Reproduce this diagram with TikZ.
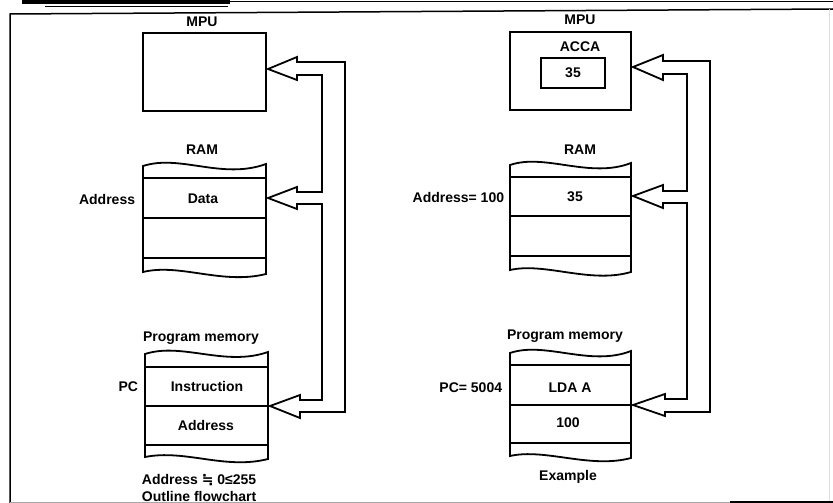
\documentclass[tikz,border=0pt]{standalone}
\usepackage{fontspec}
\setmainfont{Liberation Sans}
\newfontfamily\symfnt{DejaVu Sans}
\begin{document}
\begin{tikzpicture}[x=1pt,y=-1pt,line width=1.8pt,line join=miter,
  lbl/.style={font=\fontsize{14}{16}\selectfont\bfseries,inner sep=0pt},
  boxst/.style={draw,line width=1.8pt,inner sep=0pt},
  mem/.style={draw,line width=1.8pt},
  bus/.style={draw,line width=1.8pt,line join=miter}]
\useasboundingbox (0,0) rectangle (833,503);
% frame
\fill (22,0) rectangle (230,4);
\draw[line width=1.2pt] (230,1.5) -- (833,1.5);
\draw[line width=0.8pt] (45,6.5) -- (228,6.5);
\draw[line width=1.5pt] (10,503) -- (10,14) -- (833,9);
\draw[black!12,line width=0.8pt] (829,9) -- (829,503);
\draw[black!35,line width=1pt] (10,502) -- (730,502);
\draw[line width=2.5pt] (730,502) -- (833,502);

% ================= left panel =================
\node[lbl] (mpuL) at (202,22) {MPU};
\node[boxst,minimum width=123pt,minimum height=78pt] (mpuboxL) at (204.5,72) {};
\node[lbl] (ramL) at (202,150) {RAM};
\draw[mem] (143,272) -- (143,166) .. controls (180,154) and (222,180) .. (266,164) -- (266,274)
  .. controls (222,285) and (180,263) .. cycle;
\draw[mem] (143,178) -- (266,178) (143,218) -- (266,218) (143,258) -- (266,258);
\node[lbl] (dataL) at (203,199) {Data};
\node[lbl,anchor=east] (addrL) at (136,199) {Address};
\node[lbl] (pmL) at (201,338) {Program memory};
\draw[mem] (145,457) -- (145,354) .. controls (182,342) and (225,367) .. (268,352) -- (268,459)
  .. controls (225,470) and (185,449) .. cycle;
\draw[mem] (145,367) -- (268,367) (145,406) -- (268,406) (145,445) -- (268,445);
\node[lbl] (instrL) at (207,386) {Instruction};
\node[lbl] (paddrL) at (206,425) {Address};
\node[lbl,anchor=east] (pcL) at (139,387) {PC};
\node[lbl,anchor=west] (rangeL) at (141,480) {Address {\symfnt\bfseries ≒} 0≤255};
\node[lbl,anchor=base west] (outline) at (141,501) {Outline flowchart};
% bus arrows left
\draw[bus] (345,62) -- (297,62) -- (297,57) -- (268,69) -- (297,80) -- (297,75) -- (322,75)
  -- (322,192) -- (297,192) -- (297,187) -- (268,198) -- (297,209) -- (297,204) -- (322,204)
  -- (322,400) -- (300,400) -- (300,395) -- (270,406) -- (300,418) -- (300,412) -- (345,412) -- cycle;

% ================= right panel =================
\node[lbl] (mpuR) at (580,20) {MPU};
\node[boxst,minimum width=121pt,minimum height=78pt] (mpuboxR) at (570.5,71) {};
\node[lbl] (acca) at (580,47) {ACCA};
\node[boxst,lbl,draw,line width=1.8pt,minimum width=64pt,minimum height=30pt] (accbox) at (573,73) {35};
\node[lbl] (ramR) at (580,150) {RAM};
\draw[mem] (510,270) -- (510,165) .. controls (545,153) and (590,179) .. (631,163) -- (631,272)
  .. controls (590,284) and (545,262) .. cycle;
\draw[mem] (510,177) -- (631,177) (510,216) -- (631,216) (510,256) -- (631,256);
\node[lbl] (dataR) at (575,197) {35};
\node[lbl,anchor=east] (addrR) at (505,197) {Address= 100};
\node[lbl] (pmR) at (565,336) {Program memory};
\draw[mem] (510,456) -- (510,353) .. controls (545,341) and (590,367) .. (631,351) -- (631,458)
  .. controls (590,469) and (545,448) .. cycle;
\draw[mem] (510,365) -- (631,365) (510,405) -- (631,405) (510,443) -- (631,443);
\node[lbl] (ldaR) at (570,388) {LDA A};
\node[lbl] (hundR) at (568,423) {100};
\node[lbl,anchor=east] (pcR) at (503,388) {PC= 5004};
\node[lbl] (example) at (568,477) {Example};
% bus arrows right
\draw[bus] (710,61) -- (663,61) -- (663,55) -- (633,67) -- (663,80) -- (663,74) -- (687,74)
  -- (687,191) -- (663,191) -- (663,185) -- (633,196) -- (663,208) -- (663,203) -- (687,203)
  -- (687,399) -- (665,399) -- (665,394) -- (633,405) -- (665,416) -- (665,412) -- (710,412) -- cycle;
\end{tikzpicture}
\end{document}
